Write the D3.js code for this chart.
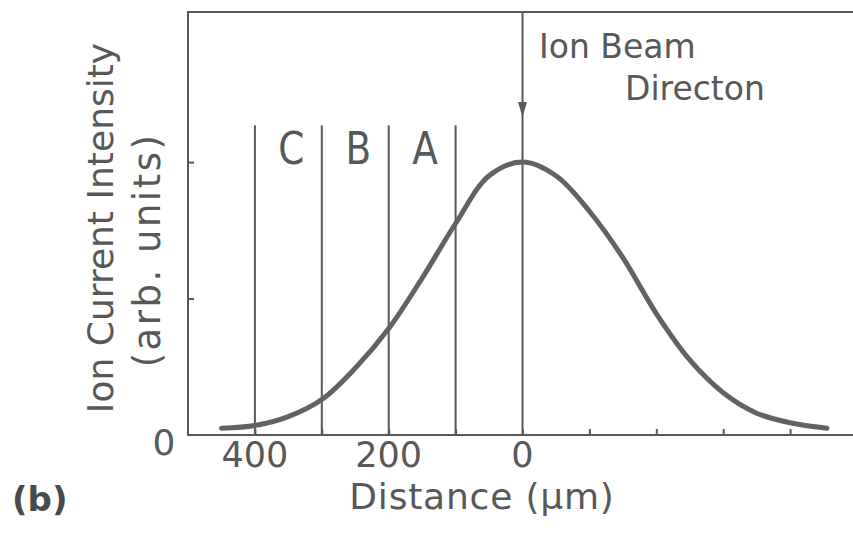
<!DOCTYPE html>
<html>
<head>
<meta charset="utf-8">
<script src="https://cdn.jsdelivr.net/npm/d3@7"></script>
<style>
  html, body { margin: 0; padding: 0; background: #ffffff; }
  svg { display: block; }
  text { font-family: "DejaVu Sans", "Liberation Sans", sans-serif; fill: #585858; }
</style>
</head>
<body>
<svg id="chart" width="853" height="539"></svg>
<script>
// Beam profile: distance from beam centre (µm) and ion current (arb. units)
const distance  = [450, 400, 350, 300, 250, 200, 150, 100, 50, 0, -50, -100, -150, -200, -250, -300, -350, -400, -455];
const intensity = [0.05, 0.07, 0.135, 0.26, 0.49, 0.78, 1.15, 1.55, 1.90, 2.0, 1.90, 1.64, 1.30, 0.89, 0.55, 0.31, 0.16, 0.09, 0.05];

// Zone boundaries and zone names
const zoneEdges  = [400, 300, 200, 100];
const zoneNames  = ["C", "B", "A"];
const zoneCentre = [350, 250, 150];
const zoneTop    = 2.27;

// Ticks
const xTicks      = [400, 300, 200, 100, 0, -100, -200, -300, -400];
const xTickLabels = [400, 200, 0];
const yTicks      = [1, 2];

// Beam direction arrow
const beamAt = 0;
const arrowTip = 2.33, arrowBase = 2.44;

const svg = d3.select("#chart");
const ink = "#585858";

const x = d3.scaleLinear().domain([500, -500]).range([188, 857]);
const y = d3.scaleLinear().domain([0, 3.1]).range([435, 12]);

// Frame
svg.append("rect")
  .attr("x", x(500)).attr("y", y(3.1))
  .attr("width", x(-500) - x(500)).attr("height", y(0) - y(3.1))
  .attr("fill", "none").attr("stroke", ink).attr("stroke-width", 2);

// Bottom axis ticks (pointing inward)
const xAxis = d3.axisTop(x).tickValues(xTicks).tickSize(6).tickFormat("");
const gx = svg.append("g").attr("transform", `translate(0,${y(0)})`).call(xAxis);
gx.select(".domain").remove();
gx.selectAll("line").attr("stroke", ink).attr("stroke-width", 2);

// Left axis ticks (pointing inward)
const yAxis = d3.axisRight(y).tickValues(yTicks).tickSize(6).tickFormat("");
const gy = svg.append("g").attr("transform", `translate(${x(500)},0)`).call(yAxis);
gy.select(".domain").remove();
gy.selectAll("line").attr("stroke", ink).attr("stroke-width", 2);

// Tick labels
svg.append("g").selectAll("text").data(xTickLabels).join("text")
  .attr("x", d => x(d)).attr("y", 467)
  .attr("text-anchor", "middle").attr("font-size", 35)
  .text(d => d);
svg.append("text")
  .attr("x", 164).attr("y", y(0) + 20)
  .attr("text-anchor", "middle").attr("font-size", 36)
  .text("0");

// Zone boundaries
svg.append("g").selectAll("line").data(zoneEdges).join("line")
  .attr("x1", d => x(d)).attr("x2", d => x(d))
  .attr("y1", y(zoneTop)).attr("y2", y(0))
  .attr("stroke", ink).attr("stroke-width", 2);

svg.append("g").selectAll("text").data(zoneNames).join("text")
  .attr("x", (d, i) => x(zoneCentre[i]) + 3).attr("y", 164)
  .attr("text-anchor", "middle").attr("font-size", 44)
  .attr("transform", (d, i) => `translate(${x(zoneCentre[i]) + 3},0) scale(0.85,1) translate(${-(x(zoneCentre[i]) + 3)},0)`)
  .text(d => d);

// Beam direction line with arrowhead
svg.append("line")
  .attr("x1", x(beamAt)).attr("x2", x(beamAt))
  .attr("y1", y(3.1)).attr("y2", y(0))
  .attr("stroke", ink).attr("stroke-width", 2);
svg.append("path")
  .attr("d", `M${x(beamAt) - 4.5},${y(arrowBase)} L${x(beamAt) + 4.5},${y(arrowBase)} L${x(beamAt)},${y(arrowTip)} Z`)
  .attr("fill", ink);

svg.append("text").attr("x", 539).attr("y", 58).attr("font-size", 33).text("Ion Beam");
svg.append("text").attr("x", 625).attr("y", 100).attr("font-size", 33).text("Directon");

// Profile curve
const line = d3.line()
  .x((d, i) => x(distance[i]))
  .y(d => y(d))
  .curve(d3.curveCatmullRom.alpha(0.5));
svg.append("path")
  .datum(intensity)
  .attr("d", line)
  .attr("fill", "none")
  .attr("stroke", "#626262")
  .attr("stroke-width", 5)
  .attr("stroke-linecap", "round");

// Axis titles
svg.append("text")
  .attr("transform", "translate(113,228) rotate(-90)")
  .attr("text-anchor", "middle").attr("font-size", 36)
  .text("Ion Current Intensity");
svg.append("text")
  .attr("transform", "translate(160,250) rotate(-90)")
  .attr("text-anchor", "middle").attr("font-size", 37)
  .attr("letter-spacing", 2.5)
  .text("(arb. units)");

svg.append("text")
  .attr("x", 482).attr("y", 509)
  .attr("text-anchor", "middle").attr("font-size", 36)
  .attr("letter-spacing", 0.8)
  .text("Distance (μm)");

// Panel tag
svg.append("text")
  .attr("x", 12).attr("y", 511)
  .attr("font-size", 34).attr("font-weight", "bold")
  .style("fill", "#4a4a4a")
  .text("(b)");
</script>
</body>
</html>
